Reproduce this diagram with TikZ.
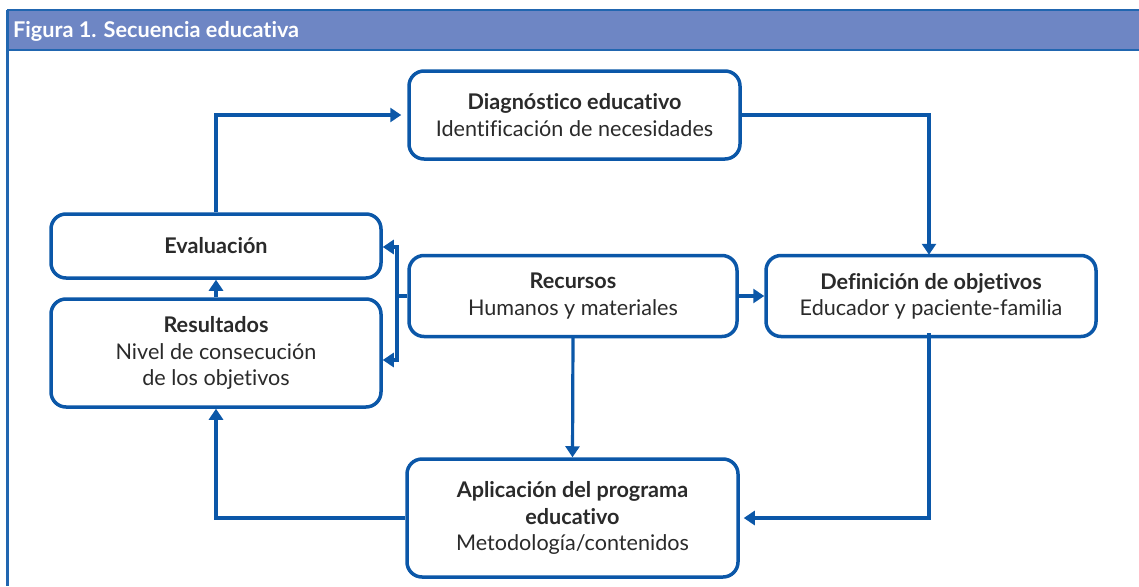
\documentclass[tikz,border=0pt]{standalone}
\usepackage{fontspec}
\setmainfont{Lato}[RawFeature={-liga}]
\usetikzlibrary{arrows.meta}
\definecolor{frame}{HTML}{2166B0}
\definecolor{band}{HTML}{6E86C4}
\definecolor{boxc}{HTML}{0B57A8}
\definecolor{txt}{HTML}{2A2A2A}
\tikzset{
  stepbox/.style={draw=boxc, line width=3.5pt, rounded corners=15pt, fill=white,
    align=center, text=txt, font=\fontsize{21.6}{26.3}\selectfont, inner sep=0pt},
  link/.style={draw=boxc, line width=3.2pt, -{Triangle[width=14pt,length=11pt]}},
  plain/.style={draw=boxc, line width=3.2pt}
}
\begin{document}
\begin{tikzpicture}[x=1pt,y=-1pt]
\useasboundingbox (0,0) rectangle (1139,586);
% frame and header
\fill[band] (7,10) rectangle (1139,50);
\draw[frame, line width=2.5pt] (7,10) -- (1139,10);
\draw[frame, line width=2.5pt] (7,50) -- (1139,50);
\draw[frame, line width=3pt] (7,10) -- (7,586);
\node[anchor=west, text=white, font=\fontsize{21.7}{24}\selectfont\bfseries, inner sep=0pt] (title) at (13,31) {Figura 1. Secuencia educativa};
% boxes
\node[stepbox, minimum width=331pt, minimum height=88pt] (diag) at (574.5,115) {\textbf{Diagnóstico educativo}\\Identificación de necesidades};
\node[stepbox, minimum width=330pt, minimum height=64pt] (eval) at (216,246) {\textbf{Evaluación}};
\node[stepbox, minimum width=330pt, minimum height=108pt] (res) at (216,353) {\textbf{Resultados}\\Nivel de consecución\\de los objetivos};
\node[stepbox, minimum width=328pt, minimum height=81pt] (rec) at (573,296) {\textbf{Recursos}\\Humanos y materiales};
\node[stepbox, minimum width=330pt, minimum height=81pt] (def) at (931,296) {\textbf{Definición de objetivos}\\Educador y paciente-familia};
\node[stepbox, minimum width=331pt, minimum height=118pt] (apl) at (572.5,518) {\textbf{Aplicación del programa}\\\textbf{educativo}\\Metodología/contenidos};
% connectors
\coordinate (bus) at (397,296);
\draw[link] (eval.north) -- (eval.north |- diag.west) -- ([xshift=-6pt]diag.west);
\draw[link] (diag.east) -| ([xshift=-2pt,yshift=-1pt]def.north);
\draw[link] ([xshift=-2pt,yshift=5pt]def.south) |- ([xshift=4pt]apl.east);
\draw[link] (apl.west) -| (res.south);
\draw[link] (res.north) -- (eval.south);
\draw[link] (rec.east) -- (def.west);
\draw[link] ([yshift=3pt]rec.south) -- (apl.north);
\draw[plain] (rec.west) -- (bus);
\draw[link] (bus) |- ([yshift=-1pt]eval.east);
\draw[link] (bus) |- ([yshift=-7pt]res.east);
\end{tikzpicture}
\end{document}
